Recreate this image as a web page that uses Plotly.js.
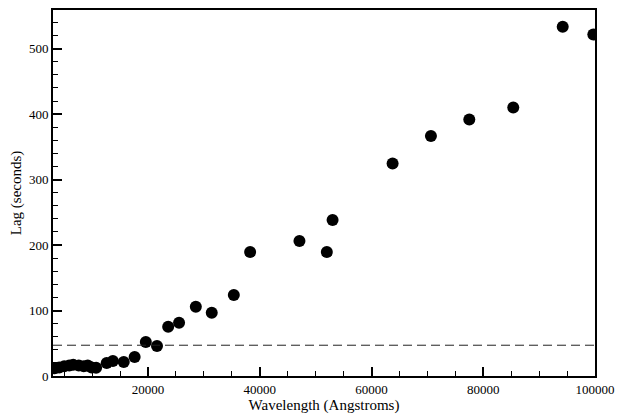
<!DOCTYPE html>
<html>
<head>
<meta charset="utf-8">
<script src="https://cdn.plot.ly/plotly-3.0.1.min.js"></script>
<style>html,body{margin:0;padding:0;background:#fff;}#chart{width:618px;height:414px;}</style>
</head>
<body>
<div id="chart"></div>
<script>
const wavelength = [3300, 4100, 5000, 5900, 6600, 7600, 8500, 9200, 9900, 10700,
  12600, 13700, 15650, 17600, 19600, 21600, 23600, 25550, 28550, 31400,
  35350, 38270, 47100, 52000, 53030, 63770, 70630, 77500, 85370, 94220, 99700];
const lag = [12, 13, 15, 16, 17, 16, 15, 16, 13, 12.5,
  19.8, 22.9, 21.4, 29, 51.9, 45.8, 75.3, 81.4, 105.8, 96.6,
  123.7, 189.3, 206.1, 189.3, 238.2, 324.7, 366.4, 391.9, 410.2, 533.3, 521.7];
const thresholdLag = 47;
const xTickVals = [20000, 40000, 60000, 80000, 100000];
const yTickVals = [0, 100, 200, 300, 400, 500];

const font = '"Liberation Serif", "Times New Roman", serif';
const data = [{
  x: wavelength, y: lag, type: 'scatter', mode: 'markers',
  marker: {color: '#000', size: 12}, cliponaxis: true, hoverinfo: 'skip'
}];
const layout = {
  width: 618, height: 414,
  margin: {l: 53, r: 23, t: 10, b: 38},
  paper_bgcolor: '#fff', plot_bgcolor: '#fff',
  showlegend: false,
  font: {family: font, size: 13, color: '#000'},
  xaxis: {
    range: [2986, 100000], showgrid: false, zeroline: false,
    showline: true, linewidth: 2, linecolor: '#000', mirror: true,
    ticks: 'inside', ticklen: 9, tickwidth: 2, tickcolor: '#000',
    tickvals: xTickVals, ticktext: xTickVals.map(String),
    tickfont: {family: font, size: 13},
    minor: {dtick: 5000, tick0: 0, ticks: 'inside', ticklen: 5, tickwidth: 1, tickcolor: '#000'},
    title: {text: 'Wavelength (Angstroms)', font: {family: font, size: 15}, standoff: 2}
  },
  yaxis: {
    range: [0, 559], showgrid: false, zeroline: false,
    showline: true, linewidth: 2, linecolor: '#000', mirror: true,
    ticks: 'inside', ticklen: 9, tickwidth: 2, tickcolor: '#000',
    tickvals: yTickVals, ticktext: yTickVals.map(String),
    tickfont: {family: font, size: 13},
    minor: {dtick: 20, tick0: 0, ticks: 'inside', ticklen: 5, tickwidth: 1, tickcolor: '#000'},
    title: {text: 'Lag (seconds)', font: {family: font, size: 15}, standoff: 4}
  },
  shapes: [{
    type: 'line', xref: 'paper', x0: 0, x1: 1, yref: 'y', y0: thresholdLag, y1: thresholdLag,
    line: {color: '#222', width: 1, dash: '9px,5px'}
  }]
};
Plotly.newPlot('chart', data, layout, {staticPlot: true, displayModeBar: false});
</script>
</body>
</html>
